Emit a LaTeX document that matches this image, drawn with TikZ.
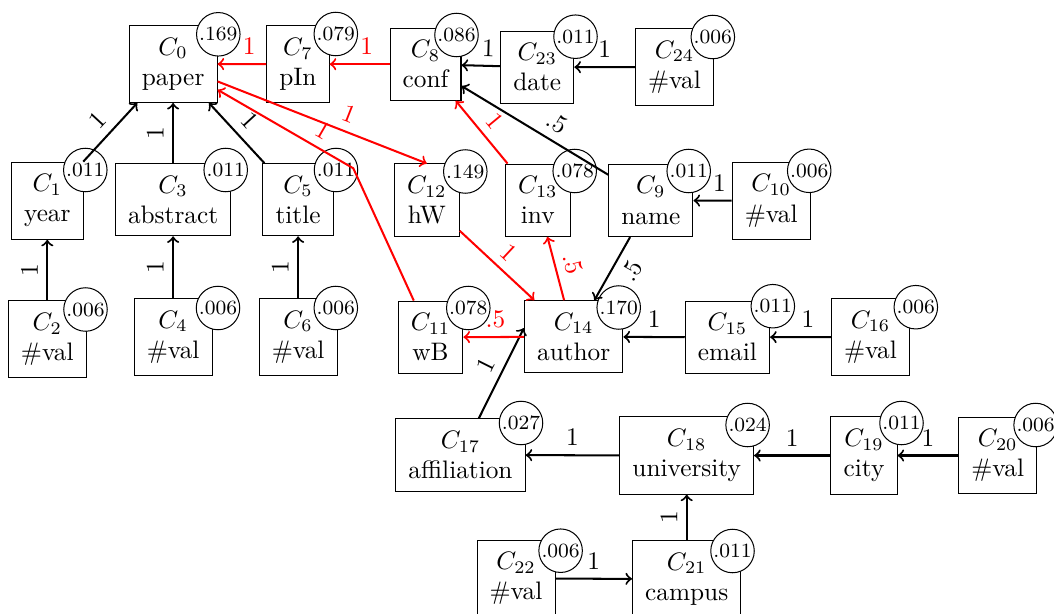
\documentclass[tikz,border=0pt]{standalone}
\usetikzlibrary{arrows}
\begin{document}
\begin{tikzpicture}[x=0.3953pt,y=-0.3953pt,
  box/.style={draw=black,align=center,inner xsep=5pt,inner ysep=4.8pt},
  prob/.style={circle,draw=black,fill=white,inner sep=0pt,minimum size=17.2pt,font=\footnotesize},
  e/.style={thick,->},
  lab/.style={sloped,above}]
\useasboundingbox (0,0) rectangle (1054,613);
% boxes
\node[box] (C0) at (173.1,64) {$C_{0}$\\paper};
\node[box] (C7) at (297.9,64.2) {$C_{7}$\\pIn};
\node[box] (C8) at (425.5,64.2) {$C_{8}$\\conf};
\node[box] (C23) at (537.3,67.2) {$C_{23}$\\date};
\node[box] (C24) at (674.5,67) {$C_{24}$\\\#val};
\node[box] (C1) at (47.3,200.7) {$C_{1}$\\year};
\node[box] (C3) at (173.1,199.7) {$C_{3}$\\abstract};
\node[box] (C5) at (298.1,199.7) {$C_{5}$\\title};
\node[box] (C12) at (426.8,200.2) {$C_{12}$\\hW};
\node[box] (C13) at (537.8,200.2) {$C_{13}$\\inv};
\node[box] (C9) at (650.8,200.5) {$C_{9}$\\name};
\node[box] (C10) at (771.2,200.7) {$C_{10}$\\\#val};
\node[box] (C2) at (47.3,339.2) {$C_{2}$\\\#val};
\node[box] (C4) at (173.1,337) {$C_{4}$\\\#val};
\node[box] (C6) at (298.1,337) {$C_{6}$\\\#val};
\node[box] (C11) at (430.5,337.2) {$C_{11}$\\wB};
\node[box] (C14) at (573.7,336.8) {$C_{14}$\\author};
\node[box] (C15) at (727.4,337.2) {$C_{15}$\\email};
\node[box] (C16) at (870.5,337) {$C_{16}$\\\#val};
\node[box] (C17) at (460.5,455) {$C_{17}$\\affiliation};
\node[box] (C18) at (686.7,455.5) {$C_{18}$\\university};
\node[box] (C19) at (864,455.5) {$C_{19}$\\city};
\node[box] (C20) at (997.7,455.5) {$C_{20}$\\\#val};
\node[box] (C22) at (516,578.5) {$C_{22}$\\\#val};
\node[box] (C21) at (686.7,579) {$C_{21}$\\campus};
% probability circles
\node[prob] (p0) at (218.3,34.3) {.169};
\node[prob] (p7) at (335.8,34) {.079};
\node[prob] (p8) at (456.5,35) {.086};
\node[prob] (p23) at (575.5,36.7) {.011};
\node[prob] (p24) at (712.8,37) {.006};
\node[prob] (p1) at (85.3,170) {.011};
\node[prob] (p3) at (225.7,170) {.011};
\node[prob] (p5) at (336,170) {.011};
\node[prob] (p12) at (465.3,171.5) {.149};
\node[prob] (p13) at (574.7,171) {.078};
\node[prob] (p9) at (688.7,171) {.011};
\node[prob] (p10) at (809.2,170.8) {.006};
\node[prob] (p2) at (85.5,309.5) {.006};
\node[prob] (p4) at (218,308) {.006};
\node[prob] (p6) at (335.8,308) {.006};
\node[prob] (p11) at (468.3,308) {.078};
\node[prob] (p14) at (618.7,307.5) {.170};
\node[prob] (p15) at (772.8,306.2) {.011};
\node[prob] (p16) at (915.8,307.2) {.006};
\node[prob] (p17) at (521,423) {.027};
\node[prob] (p18) at (747.6,425) {.024};
\node[prob] (p19) at (901.5,423) {.011};
\node[prob] (p20) at (1035.6,425) {.006};
\node[prob] (p22) at (560.6,550.7) {.006};
\node[prob] (p21) at (732.5,551) {.011};
% black edges
\draw[e] (C1) -- node[lab]{1} (C0);
\draw[e] (C3) -- node[lab]{1} (C0);
\draw[e] (C5) -- node[lab]{1} (C0);
\draw[e] (C2) -- node[lab]{1} (C1);
\draw[e] (C4) -- node[lab]{1} (C3);
\draw[e] (C6) -- node[lab]{1} (C5);
\draw[e] (C23) -- node[lab,pos=0.32]{1} (C8);
\draw[e] (C24) -- node[lab]{1} (C23);
\draw[e] (C9) -- node[lab,pos=0.41]{.5} (C8);
\draw[e] (C10) -- node[lab,pos=0.32]{1} (C9);
\draw[e] (C9) -- node[sloped,below,pos=0.4]{.5} (C14);
\draw[e] (C15) -- node[lab]{1} (C14);
\draw[e] (C16) -- node[lab,pos=0.38]{1} (C15);
\draw[e] (C17) -- node[lab]{1} (C14.170);
\draw[e] (C18) -- node[lab]{1} (C17);
\draw[e] (C19) -- node[lab]{1} (C18);
\draw[e] (C20) -- node[lab]{1} (C19);
\draw[e] (C21) -- node[lab]{1} (C18);
\draw[e] (C22) -- node[lab]{1} (C21);
% red edges
\coordinate (k) at (353.3,168.3);
\draw[e,red] (C7) -- node[lab,pos=0.35]{1} (C0);
\draw[e,red] (C8) -- node[lab,pos=0.38]{1} (C7);
\draw[e,red] (C0) -- node[lab,pos=0.6]{1} (C12.north);
\draw[e,red] (C11) -- (k) -- node[lab,pos=0.29]{1} (C0);
\draw[e,red] (C13) -- node[lab]{1} (C8);
\draw[e,red] (C14) -- node[lab]{.5} (C13);
\draw[e,red] (C12) -- node[lab]{1} (C14);
\draw[e,red] (C14) -- node[lab,pos=0.47]{.5} (C11);
\end{tikzpicture}
\end{document}
